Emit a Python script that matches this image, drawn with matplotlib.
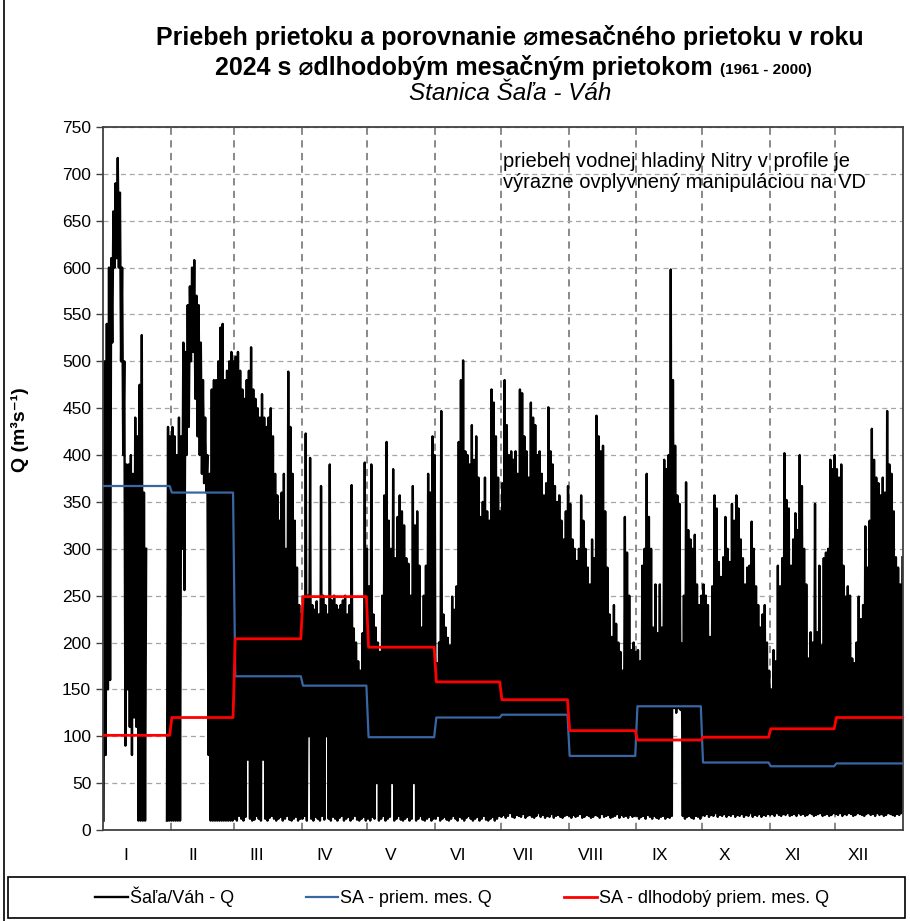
import numpy as np
import matplotlib.pyplot as plt
from matplotlib.patches import Rectangle
from matplotlib.lines import Line2D

plt.rcParams['font.family'] = ['Liberation Sans', 'DejaVu Sans']

nan = np.nan

# dni v mesiacoch 2024 (priestupny rok)
month_days = [31, 29, 31, 30, 31, 30, 31, 31, 30, 31, 30, 31]
month_labels = ['I', 'II', 'III', 'IV', 'V', 'VI', 'VII', 'VIII', 'IX', 'X', 'XI', 'XII']

# denne maxima / minima prietoku Q (m3/s), odcitane z grafu
q_max = [
    # I
    500, 540, 600, 610, 660, 690, 717, 680, 600, 500, 390, 390, 400, 380, 440, 420, 475, 528, 360, 300,
    nan, nan, nan, nan, nan, nan, nan, nan, nan, 430, 420,
    # II
    430, 420, 400, 440, 420, 520, 510, 560, 580, 600, 608, 570, 560, 520, 480,
    440, 400, 380, 470, 480, 480, 500, 536, 540, 480, 490, 500, 510, 500,
    # III
    505, 510, 490, 470, 460, 480, 490, 515, 470, 460, 450, 440, 465, 440, 430, 440,
    450, 420, 380, 357, 330, 360, 380, 300, 489, 430, 380, 330, 280, 240, 230,
    # IV
    240, 423, 250, 397, 240, 235, 244, 230, 367, 250, 240, 230, 390, 245, 250,
    240, 235, 240, 245, 250, 230, 240, 368, 215, 200, 180, 170, 210, 392, 300,
    # V
    260, 390, 230, 216, 200, 190, 250, 357, 414, 330, 300, 385, 290, 334, 357, 340,
    325, 290, 284, 250, 367, 325, 340, 282, 216, 250, 282, 380, 360, 420, 400,
    # VI
    178, 200, 447, 230, 216, 205, 197, 249, 235, 260, 414, 480, 501, 404, 400,
    390, 432, 395, 420, 376, 334, 350, 376, 340, 330, 470, 456, 420, 376, 340,
    # VII
    370, 480, 432, 400, 404, 395, 404, 380, 470, 466, 420, 404, 376, 456, 440, 432,
    400, 404, 380, 357, 370, 451, 404, 390, 367, 350, 357, 330, 310, 340, 367,
    # VIII
    348, 310, 300, 287, 300, 357, 330, 300, 280, 262, 310, 290, 442, 420, 404, 410,
    340, 280, 230, 206, 240, 220, 200, 190, 170, 334, 296, 250, 192, 200, 190,
    # IX
    192, 180, 282, 300, 380, 334, 300, 216, 262, 210, 262, 216, 395, 385, 400,
    598, 480, 410, 357, 348, 199, 250, 371, 320, 310, 300, 315, 262, 240, 250,
    # X
    262, 250, 240, 206, 260, 357, 343, 286, 270, 291, 334, 300, 286, 348, 330, 357,
    343, 310, 290, 262, 280, 282, 329, 300, 260, 240, 216, 230, 240, 200, 170,
    # XI
    150, 192, 180, 282, 260, 290, 402, 352, 343, 282, 310, 338, 320, 400, 367,
    300, 262, 183, 211, 200, 348, 211, 282, 197, 290, 296, 300, 395, 385, 400,
    # XII
    385, 376, 390, 282, 249, 260, 250, 183, 178, 200, 249, 225, 240, 324, 280, 330,
    428, 395, 376, 370, 357, 376, 360, 447, 390, 380, 340, 291, 280, 262, 291,
]

q_min = [
    # I
    10, 80, 150, 160, 520, 600, 610, 600, 500, 400, 90, 150, 110, 80, 120, 110, 10, 10, 10, 10,
    nan, nan, nan, nan, nan, nan, nan, nan, nan, 10, 10,
    # II
    10, 10, 10, 10, 10, 300, 256, 400, 430, 500, 510, 460, 420, 400, 380,
    370, 360, 80, 10, 10, 10, 10, 10, 10, 10, 10, 10, 10, 10,
    # III
    12, 10, 15, 12, 10, 14, 75, 12, 10, 11, 15, 12, 10, 75, 12, 10,
    13, 15, 12, 10, 12, 14, 10, 12, 15, 11, 10, 12, 14, 10, 12,
    # IV
    12, 15, 10, 100, 12, 10, 14, 12, 10, 15, 11, 100, 12, 10, 14,
    12, 10, 13, 15, 10, 12, 14, 10, 12, 15, 11, 10, 12, 14, 10,
    # V
    12, 10, 14, 12, 50, 10, 12, 15, 10, 12, 14, 50, 10, 12, 15, 11,
    10, 12, 14, 10, 12, 50, 10, 12, 15, 11, 10, 12, 14, 10, 12,
    # VI
    12, 15, 10, 12, 14, 11, 10, 12, 15, 12, 10, 14, 12, 10, 13,
    15, 12, 10, 12, 14, 10, 12, 15, 11, 10, 12, 14, 10, 12, 15,
    # VII
    14, 16, 13, 15, 18, 14, 13, 16, 15, 14, 17, 13, 15, 16, 14, 13,
    15, 18, 14, 16, 13, 15, 14, 17, 13, 15, 16, 14, 13, 15, 16,
    # VIII
    15, 13, 16, 14, 15, 17, 13, 14, 16, 15, 13, 14, 16, 15, 13, 17,
    14, 15, 16, 13, 14, 15, 17, 13, 16, 14, 15, 13, 16, 14, 15,
    # IX
    15, 12, 14, 15, 12, 16, 14, 12, 15, 13, 12, 14, 15, 12, 14,
    13, 15, 130, 125, 130, 128, 15, 12, 14, 15, 13, 12, 15, 14, 12,
    # X
    16, 15, 17, 14, 16, 15, 18, 14, 16, 15, 17, 14, 16, 15, 17, 14,
    16, 15, 17, 14, 16, 15, 18, 14, 16, 15, 17, 14, 16, 15, 17,
    # XI
    16, 17, 15, 18, 16, 15, 17, 16, 18, 15, 16, 17, 15, 18, 16,
    17, 15, 16, 18, 17, 15, 16, 17, 18, 15, 16, 17, 15, 16, 18,
    # XII
    17, 16, 18, 15, 17, 16, 18, 17, 15, 16, 18, 17, 16, 15, 17, 18,
    16, 17, 15, 18, 16, 17, 15, 16, 18, 17, 16, 15, 17, 16, 18,
]

# priemerne mesacne prietoky
q_mes_2024 = [367, 360, 164, 154, 99, 120, 123, 79, 132, 72, 68, 71]
q_mes_dlhodoby = [101, 120, 204, 249, 195, 158, 139, 106, 96, 99, 108, 120]

edges = np.concatenate([[0], np.cumsum(month_days)])

fig = plt.figure(figsize=(9.1, 9.21), dpi=100)
ax = fig.add_axes([103 / 910, 1 - 830 / 921, 800 / 910, 703 / 921])

# hodnoty striedavo min / max v ramci dna
days = np.arange(len(q_max))
xs = np.column_stack((days + 0.25, days + 0.75)).ravel()
ys = np.column_stack((q_min, q_max)).ravel()
h_q, = ax.plot(xs, ys, color='black', lw=1.7, zorder=2, label='Šaľa/Váh - Q')

# mesacne priemery ako schody
mx = np.column_stack((edges[:-1] + 0.5, edges[1:] - 0.5)).ravel()
h_sa, = ax.plot(mx, np.repeat(q_mes_2024, 2), color='#3867a3', lw=1.6, zorder=3,
                label='SA - priem. mes. Q')
h_dl, = ax.plot(mx, np.repeat(q_mes_dlhodoby, 2), color='#ff0000', lw=2.0, zorder=4,
                label='SA - dlhodobý priem. mes. Q')

ax.set_xlim(0, edges[-1])
ax.set_ylim(0, 750)
ax.set_yticks(np.arange(0, 751, 50))
ax.set_xticks(edges[1:-1])
ax.set_xticklabels([])
ax.set_xticks(edges[:-1] + 10.5, minor=True)
ax.set_xticklabels(month_labels, minor=True)
ax.tick_params(axis='x', which='both', length=0, labelsize=12.5, pad=13)
ax.tick_params(axis='y', direction='out', length=5, labelsize=12.5, width=1, color='#404040')

ax.yaxis.grid(True, linestyle=(0, (4, 3)), color='#a6a6a6', lw=0.9)
ax.xaxis.grid(True, which='major', linestyle=(0, (4, 3)), color='#808080', lw=1.3)
ax.set_axisbelow(True)
for s in ax.spines.values():
    s.set_color('#404040')
    s.set_linewidth(1.3)

ax.set_ylabel('Q (m³s⁻¹)', fontsize=14, fontweight='bold')
ax.yaxis.set_label_coords(-0.092, 0.57)

ax.text(0.5, 0.965,
        'priebeh vodnej hladiny Nitry v profile je\nvýrazne ovplyvnený manipuláciou na VD',
        transform=ax.transAxes, ha='left', va='top', fontsize=14.5, linespacing=1.18)

# nadpis
fig.text(510 / 910, 1 - 38 / 921, 'Priebeh prietoku a porovnanie ⌀mesačného prietoku v roku',
         ha='center', va='center', fontsize=18, fontweight='bold')
t2 = fig.text(215 / 910, 1 - 68 / 921, '2024 s ⌀dlhodobým mesačným prietokom ',
              ha='left', va='center', fontsize=18, fontweight='bold')
ax.annotate('(1961 - 2000)', xy=(1, 0.14), xycoords=t2, ha='left', va='bottom',
            fontsize=11, fontweight='bold', annotation_clip=False)
fig.text(510 / 910, 1 - 94 / 921, 'Stanica Šaľa - Váh', ha='center', va='center',
         fontsize=17.5, style='italic')

# legenda v ramceku
fig.legend([h_q, h_sa, h_dl], [h_q.get_label(), h_sa.get_label(), h_dl.get_label()],
           loc='center', bbox_to_anchor=(462 / 910, 1 - 897 / 921), ncol=3, frameon=False,
           fontsize=13, handlelength=1.8, handletextpad=0.1, columnspacing=4.0)
fig.add_artist(Rectangle((8 / 910, 1 - 918 / 921), 897 / 910, 41 / 921, transform=fig.transFigure,
                         fill=False, ec='black', lw=1.2))
fig.add_artist(Line2D([4 / 910, 4 / 910], [0, 1], transform=fig.transFigure, color='black', lw=1.2))

fig.savefig('out.png', dpi=100)
